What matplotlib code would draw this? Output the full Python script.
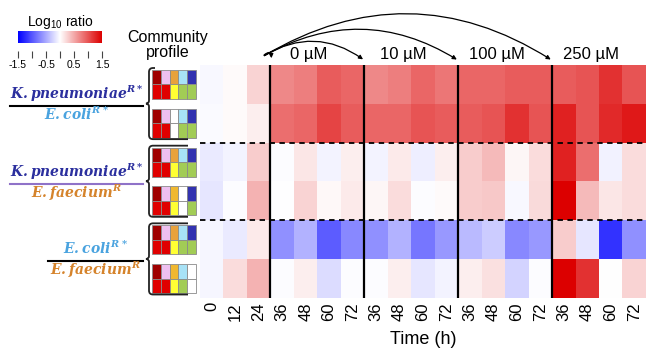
import numpy as np
import matplotlib
matplotlib.use('Agg')
import matplotlib.pyplot as plt
from matplotlib.colors import LinearSegmentedColormap
from matplotlib.patches import FancyArrowPatch, Rectangle, PathPatch
from matplotlib.path import Path

plt.rcParams['font.family'] = ['Liberation Sans', 'DejaVu Sans']
# species names: bold italic serif via custom mathtext (for the superscripts)
plt.rcParams['mathtext.rm'] = 'DejaVu Serif:bold:italic'
plt.rcParams['mathtext.it'] = 'DejaVu Serif:bold:italic'
plt.rcParams['mathtext.bf'] = 'DejaVu Serif:bold:italic'

# sampling times (h) and treatment groups
time_labels = ['0', '12', '24'] + ['36', '48', '60', '72'] * 4
conc_labels = ['0 µM', '10 µM', '100 µM', '250 µM']
group_starts = [3, 7, 11, 15]

# log10 ratio, one row per community
log_ratio = np.array([
    [-0.04, 0.03, 0.25, 0.70, 0.75, 0.95, 0.90, 0.70, 0.75, 0.90, 0.80, 0.90, 0.90, 0.95, 0.95, 0.95, 1.00, 1.20, 1.00],
    [-0.03, 0.03, 0.10, 0.85, 0.90, 1.10, 0.95, 0.90, 0.90, 1.00, 0.95, 0.95, 1.00, 1.20, 1.00, 1.30, 1.00, 1.25, 1.35],
    [-0.12, -0.06, 0.30, -0.02, 0.15, -0.07, 0.10, -0.06, 0.12, -0.10, 0.10, 0.30, 0.40, 0.05, 0.20, 1.30, 0.85, -0.08, 0.20],
    [-0.15, -0.02, 0.45, -0.01, 0.25, 0.04, 0.12, 0.05, 0.20, -0.02, 0.03, 0.30, 0.32, -0.04, 0.22, 1.50, 0.40, 0.15, 0.20],
    [-0.05, -0.12, 0.12, -0.65, -0.45, -0.95, -0.70, -0.65, -0.45, -0.80, -0.60, -0.40, -0.30, -0.70, -0.60, 0.30, -0.15, -1.20, -0.65],
    [-0.05, 0.20, 0.45, -0.02, 0.10, -0.20, -0.02, -0.02, 0.10, -0.15, -0.07, 0.10, 0.18, -0.25, -0.02, 1.50, 1.20, 0.00, 0.25],
])

# community profiles (5 x 2 grid per row)
profile_colors = {
    'dr': '#a00000', 'pk': '#eec0f0', 'or': '#e8a23c', 'go': '#f0b830',
    'lb': '#a8e2f6', 'db': '#3333b0', 'rd': '#e00000', 'ye': '#ffff33',
    'gr': '#a2cc55', 'wh': '#ffffff',
}
profile_top = [
    ['dr', 'pk', 'or', 'lb', 'db'],
    ['dr', 'pk', 'wh', 'lb', 'db'],
    ['dr', 'pk', 'or', 'lb', 'db'],
    ['dr', 'pk', 'go', 'wh', 'db'],
    ['dr', 'pk', 'or', 'lb', 'db'],
    ['dr', 'pk', 'go', 'lb', 'wh'],
]
profile_bottom = [
    ['rd', 'rd', 'ye', 'gr', 'gr'],
    ['rd', 'rd', 'wh', 'gr', 'gr'],
    ['rd', 'rd', 'ye', 'gr', 'gr'],
    ['rd', 'rd', 'ye', 'wh', 'gr'],
    ['rd', 'rd', 'ye', 'gr', 'gr'],
    ['rd', 'rd', 'ye', 'gr', 'wh'],
]

# species pairs (numerator / denominator)
numerators = [r'$K.pneumoniae^{R*}$', r'$K.pneumoniae^{R*}$', r'$E.coli^{R*}$']
denominators = [r'$E.coli^{R*}$', r'$E.faecium^{R}$', r'$E.faecium^{R}$']
num_colors = ['#2b2f9e', '#2b2f9e', '#4aa3df']
den_colors = ['#4aa3df', '#d5832b', '#d5832b']
bar_colors = ['black', '#8f72c8', 'black']

W, H = 647, 350
fig = plt.figure(figsize=(W / 100, H / 100), dpi=100)

# overlay in pixel coordinates for labels, profiles, braces, arrows
ov = fig.add_axes([0, 0, 1, 1])
ov.set_xlim(0, W)
ov.set_ylim(H, 0)
ov.axis('off')

hm_left, hm_right, hm_top, hm_bot = 200, 646, 65, 298
ax = fig.add_axes([hm_left / W, 1 - hm_bot / H, (hm_right - hm_left) / W, (hm_bot - hm_top) / H])

cmap = LinearSegmentedColormap.from_list('bwr2', ['#0000ff', '#ffffff', '#dc0000'])
n_rows, n_cols = log_ratio.shape
im = ax.imshow(log_ratio, cmap=cmap, vmin=-1.5, vmax=1.5, aspect='auto',
               extent=(0, n_cols, n_rows, 0), interpolation='nearest')
for g in group_starts:
    ax.axvline(g, color='black', lw=1.6)
for r in [2, 4]:
    ax.axhline(r, color='black', lw=1.3, ls=(0, (3, 2.5)))
ax.set_xticks(np.arange(n_cols) + 0.5)
ax.set_xticklabels(time_labels, rotation=90, fontsize=12)
ax.tick_params(axis='x', length=0, pad=3)
ax.set_yticks([])
for s in ax.spines.values():
    s.set_visible(False)
ax.set_xlabel('Time (h)', fontsize=13, labelpad=7)

# treatment labels and arrows from the 24 h time point
for g, lab in zip(group_starts, conc_labels):
    ax.text(g + 1.65, 1.0 + 10 / (hm_bot - hm_top), lab, transform=ax.get_xaxis_transform(),
            ha='center', va='center', fontsize=12)
row_h = (hm_bot - hm_top) / n_rows
col_w = (hm_right - hm_left) / n_cols
origin = (262, 57)
rads = [-1.3, -0.34, -0.3, -0.31]
for g, rad in zip(group_starts, rads):
    end = (hm_left + g * col_w + 1, 61)
    ov.add_patch(FancyArrowPatch(origin, end, connectionstyle=f'arc3,rad={rad}',
                                 arrowstyle='-|>', mutation_scale=6, lw=0.9, color='black'))

# colour scale
cax = fig.add_axes([18 / W, 1 - 43 / H, 84 / W, 12 / H])
cb = fig.colorbar(im, cax=cax, orientation='horizontal', ticks=[-1.5, -1, -0.5, 0, 0.5, 1, 1.5])
cb.outline.set_visible(False)
cb.ax.spines['bottom'].set_position(('outward', 6))
cb.ax.set_xticklabels(['-1.5', '', '-0.5', '', '0.5', '', '1.5'])
cb.ax.tick_params(labelsize=7.5, length=5, width=0.8, color='#444444', pad=1)
ov.text(60, 22, r'Log$_{\mathregular{10}}$ ratio', ha='center', va='center', fontsize=10)

ov.text(168, 45, 'Community\nprofile', ha='center', va='center', fontsize=11.5, linespacing=1.05)

# profile grids next to each heatmap row
cell_w, cell_h = 8.8, 14.5
gx0 = 152
for i in range(n_rows):
    yc = hm_top + (i + 0.5) * row_h
    y0 = yc - cell_h
    for j in range(5):
        for k, codes in enumerate([profile_top, profile_bottom]):
            ov.add_patch(Rectangle((gx0 + j * cell_w, y0 + k * cell_h), cell_w, cell_h,
                                   facecolor=profile_colors[codes[i][j]], edgecolor='#8a8a8a', lw=0.6))


def brace(y0, y1, top_len, bot_len, x=149):
    ym = (y0 + y1) / 2
    verts = [(x + top_len, y0), (x + 4, y0), (x, y0), (x, y0 + 4),
             (x, ym - 3), (x, ym), (x - 3, ym), (x, ym), (x, ym + 3),
             (x, y1 - 4), (x, y1), (x + 4, y1), (x + bot_len, y1)]
    codes = [Path.MOVETO, Path.LINETO, Path.CURVE3, Path.CURVE3,
             Path.LINETO, Path.CURVE3, Path.CURVE3, Path.CURVE3, Path.CURVE3,
             Path.LINETO, Path.CURVE3, Path.CURVE3, Path.LINETO]
    ov.add_patch(PathPatch(Path(verts, codes), fill=False, lw=1.3, color='#222222'))


for gi in range(3):
    gtop = hm_top + gi * 2 * row_h
    gbot = gtop + 2 * row_h
    brace(gtop + 3, gbot - 3.5, 6 if gi == 0 else 39, 39)

    line_y = (gtop + gbot) / 2 + 2
    x_l = 10 if gi < 2 else 48
    x_r = 143
    xc = (x_l + x_r) / 2
    ov.plot([x_l, x_r], [line_y, line_y], color=bar_colors[gi], lw=1.5)
    ov.text(xc, line_y - 7, numerators[gi], color=num_colors[gi], fontsize=10,
            ha='center', va='baseline', math_fontfamily='custom')
    ov.text(xc, line_y + 14, denominators[gi], color=den_colors[gi], fontsize=10,
            ha='center', va='baseline', math_fontfamily='custom')

fig.savefig('out.png', dpi=100)
